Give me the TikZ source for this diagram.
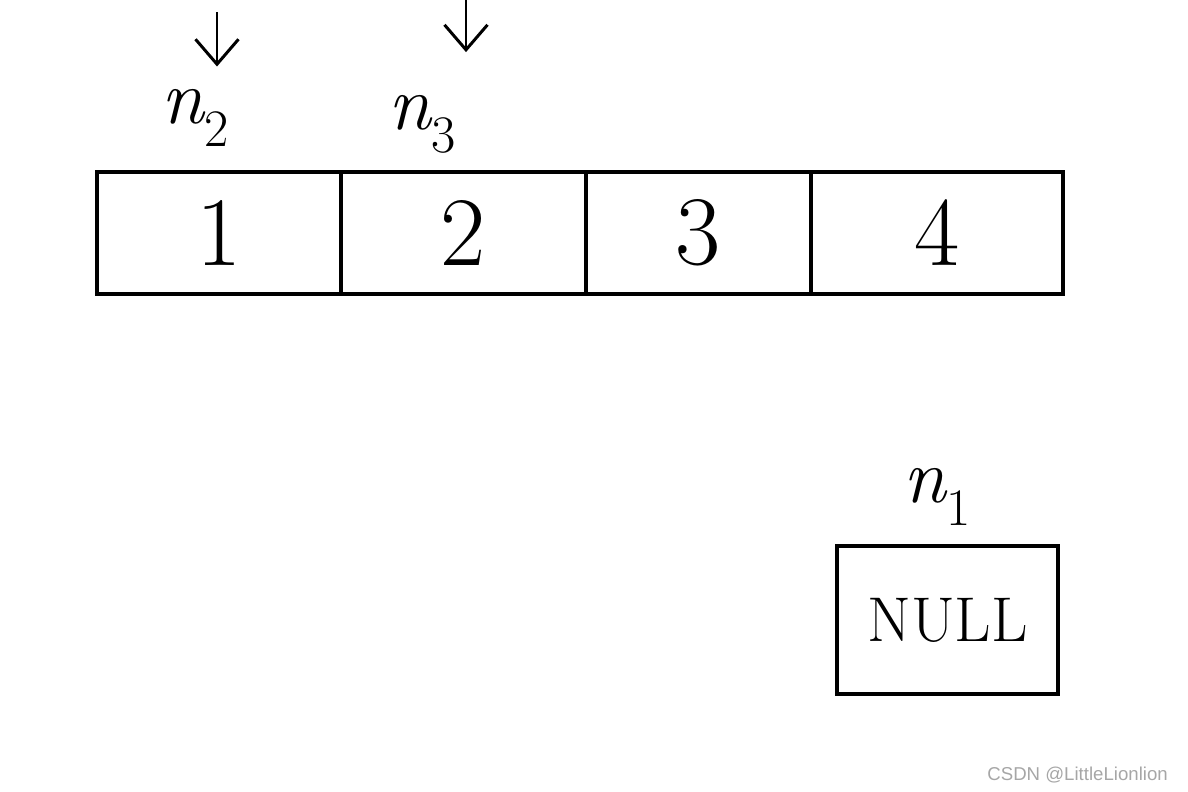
\documentclass[tikz,border=0pt]{standalone}
\usepackage{fontspec}
\newfontfamily\wmfont{Liberation Sans}
\usepackage{tikz}
\usetikzlibrary{arrows.meta}

\newcommand{\ptrname}[1]{{\itshape n}\raisebox{-0.3em}{\fontsize{30}{32}\selectfont #1}}

\begin{document}
\begin{tikzpicture}[x=0.02cm, y=-0.02cm,
    cell/.style={draw, line width=2.3pt, inner sep=0pt, minimum height=2.44cm,
                 font=\fontsize{56}{60}\selectfont},
    nullbox/.style={draw, line width=2.3pt, inner sep=0pt, minimum width=4.42cm,
                 minimum height=2.96cm, font=\fontsize{36}{40}\selectfont},
    lbl/.style={inner sep=0pt, font=\fontsize{44}{50}\selectfont},
    ptr/.style={-{Straight Barb[length=0.5cm, width=0.86cm]}, line width=1.7pt}
  ]
    \useasboundingbox (0,0) rectangle (1188,792);
    % Array cells
    \node[cell, minimum width=4.88cm] (c1) at (219,233) {1};
    \node[cell, minimum width=4.9cm] (c2) at (463.5,233) {2};
    \node[cell, minimum width=4.5cm] (c3) at (698.5,233) {3};
    \node[cell, minimum width=5.04cm] (c4) at (937,233) {4};
    % Pointer labels
    \node[lbl] (n2) at (195,118) {\ptrname{2}};
    \node[lbl] (n3) at (422,124) {\ptrname{3}};
    \node[lbl] (n1) at (937,497) {\ptrname{1}};
    % Null box
    \node[nullbox] (null) at (947.5,620) {NULL};
    % Pointer arrows
    \coordinate (p2) at (217,12);
    \coordinate (p3) at (466,0);
    \draw[ptr, shorten >=0.45cm] (p2) -- (p2 |- n2.north);
    \draw[ptr, shorten >=0.85cm] (p3) -- (p3 |- n3.north);
    % Watermark
    \node[font=\wmfont\fontsize{10.6}{12}\selectfont, text=gray!70, anchor=east] (wm)
      at (1174,775) {CSDN @LittleLionlion};
\end{tikzpicture}
\end{document}
